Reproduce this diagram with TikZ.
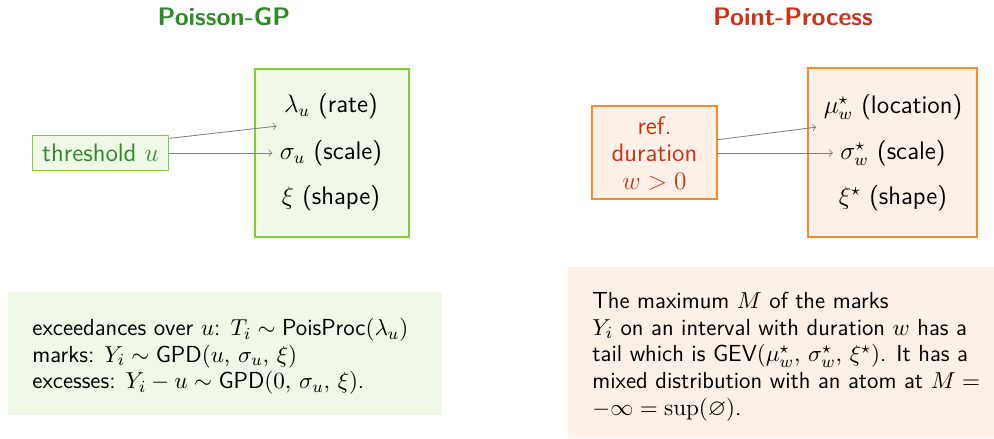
\documentclass[tikz,border=0pt]{standalone}
\usepackage{amsmath, amssymb}
\usepackage{tikz}
\usetikzlibrary{positioning}
\renewcommand{\familydefault}{\sfdefault}
\definecolor{pgGreen}{RGB}{45,140,35}
\definecolor{pgLine}{RGB}{125,210,45}
\definecolor{pgFill}{RGB}{240,248,232}
\definecolor{ppRed}{RGB}{205,50,20}
\definecolor{ppLine}{RGB}{250,140,40}
\definecolor{ppFill}{RGB}{253,240,230}
\tikzset{myTitle/.style={font=\fontsize{12}{14}\selectfont\bfseries}}
\tikzset{myText/.style={font=\fontsize{11}{12.6}\selectfont, text=black}}
\tikzset{myPar/.style={font=\fontsize{12}{13}\selectfont, text=black}}
\tikzset{myArrow/.style={->, color=gray, line width=0.4pt}}
\tikzset{pgBox/.style={draw=pgLine, fill=pgFill, line width=0.5pt}}
\tikzset{ppBox/.style={draw=ppLine, fill=ppFill, line width=0.5pt}}

\begin{document}
\begin{tikzpicture}[x=0.01667cm, y=-0.01667cm]
		\useasboundingbox (0,0) rectangle (994,438);
		% Poisson-GP side
		\node[myTitle, text=pgGreen] (pgTitle) at (224,17) {Poisson-GP};
		\draw[pgBox] (255,69) rectangle (409,237);
		\node[myPar] (lam) at (331,106) {$\lambda_u$ (rate)};
		\node[myPar] (sigU) at (331,153) {$\sigma_u$ (scale)};
		\node[myPar] (xi) at (331,198) {$\xi$ (shape)};
		\node[pgBox, myPar, text=pgGreen, inner xsep=4.8pt, inner ysep=3.9pt] (thr) at (100.5,153) {threshold $u$};
		\draw[myArrow] ([yshift=-0.05cm]thr.north east) -- (lam.south west);
		\draw[myArrow] (thr.east) -- (sigU.west);
		\fill[pgFill] (8,292) rectangle (442,415);
		\node[myText, anchor=north west, align=left, inner sep=0] (pgNote) at (32,318)
			{exceedances over $u$: $T_i \sim \text{PoisProc}(\lambda_u)$\\
			 marks: $Y_i \sim \text{GPD}(u,\, \sigma_u,\, \xi)$\\
			 excesses: $Y_i - u \sim \text{GPD}(0,\, \sigma_u,\, \xi)$.};

		% Point-Process side
		\node[myTitle, text=ppRed] (ppTitle) at (793,17) {Point-Process};
		\draw[ppBox] (808,68) rectangle (977,237);
		\node[myPar] (mu) at (893,107) {$\mu_w^\star$ (location)};
		\node[myPar] (sigW) at (893,153) {$\sigma_w^\star$ (scale)};
		\node[myPar] (xiS) at (893,198) {$\xi^\star$ (shape)};
		\draw[ppBox] (592,106) rectangle (717,199);
		\node[myPar, text=ppRed, align=center] (dur) at (654.5,153) {ref.\\ duration\\ $w > 0$};
		\coordinate (durE) at (717,153);
		\draw[myArrow] ([yshift=0.22cm]durE) -- (mu.south west);
		\draw[myArrow] (durE) -- (sigW.west);
		\fill[ppFill] (568,267) rectangle (994,438);
		\node[myText, anchor=north west, align=left, inner sep=0] (ppNote) at (592,292)
			{The maximum $M$ of the marks\\
			 $Y_i$ on an interval with duration $w$ has a\\
			 tail which is GEV$(\mu_w^\star,\, \sigma_w^\star,\, \xi^\star)$. It has a\\
			 mixed distribution with an atom at $M =$\\
			 $-\infty = \sup(\varnothing)$.};
\end{tikzpicture}
\end{document}
